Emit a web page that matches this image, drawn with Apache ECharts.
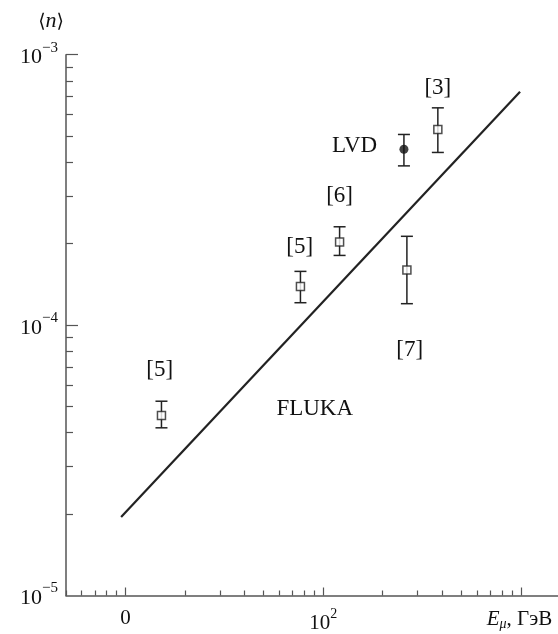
<!DOCTYPE html>
<html>
<head>
<meta charset="utf-8">
<script src="https://cdn.jsdelivr.net/npm/echarts@6/dist/echarts.min.js"></script>
<style>
html,body{margin:0;padding:0;background:#fff;}
#chart{width:558px;height:634px;}
</style>
</head>
<body>
<div id="chart"></div>
<script>
// ---- data (E_mu in GeV, <n>) ----
const squarePoints = [      // [E, <n>, low, high]
  [15.2, 4.63e-5, 4.17e-5, 5.23e-5],
  [76.7, 1.39e-4, 1.21e-4, 1.58e-4],
  [121, 2.03e-4, 1.81e-4, 2.31e-4],
  [265, 1.60e-4, 1.20e-4, 2.13e-4],
  [380, 5.29e-4, 4.35e-4, 6.36e-4]
];
const lvdPoint = [[256, 4.47e-4, 3.88e-4, 5.07e-4]];
const flukaLine = [[9.5, 1.95e-5], [990, 7.3e-4]];
const textLabels = [      // [E, <n>, text]
  [14.9, 6.85e-5, '[5]'],
  [76.0, 1.95e-4, '[5]'],
  [121, 3.0e-4, '[6]'],
  [144, 4.58e-4, 'LVD'],
  [380, 7.55e-4, '[3]'],
  [274, 8.1e-5, '[7]'],
  [90.6, 4.89e-5, 'FLUKA']
];
const xMajorTicks = [10, 100, 1000];
const xMinorTicks = [5,6,7,8,9, 20,30,40,50,60,70,80,90, 200,300,400,500,600,700,800,900];
const yMajorTicks = [1e-4, 1e-3];
const yLabelValues = [1e-5, 1e-4, 1e-3];
const yMinorTicks = [2e-5,3e-5,4e-5,5e-5,6e-5,7e-5,8e-5,9e-5, 2e-4,3e-4,4e-4,5e-4,6e-4,7e-4,8e-4,9e-4];

const FONT = '"Liberation Serif", "DejaVu Serif", serif';
const INK = '#111';
const AXIS = '#555';

const chart = echarts.init(document.getElementById('chart'), null, {renderer: 'canvas'});

const errBars = squarePoints.concat(lvdPoint).map(p => [p[0], p[2], p[3]]);

const option = {
  backgroundColor: '#fff',
  animation: false,
  grid: {left: 66, right: 0, top: 54.7, bottom: 35},
  xAxis: [
    {
      type: 'log', logBase: 10, min: 5, max: 1540,
      axisLine: {show: true, lineStyle: {color: AXIS, width: 1.5}},
      axisTick: {show: true, inside: true, length: 8, customValues: xMajorTicks, lineStyle: {color: AXIS, width: 1.2}},
      splitLine: {show: false},
      axisLabel: {
        customValues: xMajorTicks, margin: 12, color: INK, fontFamily: FONT, fontSize: 21,
        formatter: function (v) {
          if (Math.abs(v - 10) < 1e-6) return '{b|0}';
          if (Math.abs(v - 100) < 1e-6) return '{b|10}{s|2}';
          return '{i|E}{u|μ}{b|, ГэВ}{pad|}';
        },
        rich: {
          b: {fontFamily: FONT, fontSize: 21, color: INK},
          s: {fontFamily: FONT, fontSize: 14, color: INK, padding: [0, 0, 18, 0]},
          i: {fontFamily: FONT, fontSize: 21, fontStyle: 'italic', color: INK},
          u: {fontFamily: FONT, fontSize: 14, fontStyle: 'italic', color: INK, padding: [10, 0, 0, 0]},
          pad: {padding: [0, 3, 0, 0]}
        }
      }
    },
    {
      type: 'log', logBase: 10, min: 5, max: 1540, position: 'bottom',
      axisLine: {show: false},
      axisTick: {show: true, inside: true, length: 5, customValues: xMinorTicks, lineStyle: {color: AXIS, width: 1.2}},
      axisLabel: {show: false},
      splitLine: {show: false}
    }
  ],
  yAxis: [
    {
      type: 'log', logBase: 10, min: 1e-5, max: 1e-3,
      name: '{p|⟨}{n|n}{p|⟩}', nameLocation: 'end', nameGap: 22,
      nameTextStyle: {
        align: 'right', padding: [0, 2, 0, 0],
        rich: {
          p: {fontFamily: '"DejaVu Serif", serif', fontSize: 19, color: INK},
          n: {fontFamily: FONT, fontSize: 22, fontStyle: 'italic', color: INK}
        }
      },
      axisLine: {show: true, lineStyle: {color: AXIS, width: 1.5}},
      axisTick: {show: true, inside: true, length: 12, customValues: yMajorTicks, lineStyle: {color: AXIS, width: 1.2}},
      splitLine: {show: false},
      axisLabel: {
        customValues: yLabelValues, margin: 8, color: INK, fontFamily: FONT, fontSize: 22,
        formatter: function (v) {
          const e = Math.round(Math.log10(v));
          return '{b|10}{s|−' + Math.abs(e) + '}';
        },
        rich: {
          b: {fontFamily: FONT, fontSize: 22, color: INK, padding: [6, 0, 0, 0]},
          s: {fontFamily: FONT, fontSize: 15, color: INK, padding: [0, 0, 14, 0]}
        }
      }
    },
    {
      type: 'log', logBase: 10, min: 1e-5, max: 1e-3, position: 'left',
      axisLine: {show: false},
      axisTick: {show: true, inside: true, length: 7, customValues: yMinorTicks, lineStyle: {color: AXIS, width: 1.2}},
      axisLabel: {show: false},
      splitLine: {show: false}
    }
  ],
  series: [
    {
      type: 'line', xAxisIndex: 0, yAxisIndex: 0,
      data: flukaLine, showSymbol: false, symbol: 'none',
      lineStyle: {color: '#222', width: 2.2}, silent: true, z: 2
    },
    {
      type: 'custom', xAxisIndex: 0, yAxisIndex: 0,
      data: errBars, silent: true, z: 3,
      renderItem: function (params, api) {
        const x = api.value(0);
        const lo = api.coord([x, api.value(1)]);
        const hi = api.coord([x, api.value(2)]);
        const w = 6;
        const st = {stroke: '#222', lineWidth: 1.5};
        return {
          type: 'group',
          children: [
            {type: 'line', shape: {x1: lo[0], y1: lo[1], x2: hi[0], y2: hi[1]}, style: st},
            {type: 'line', shape: {x1: lo[0] - w, y1: lo[1], x2: lo[0] + w, y2: lo[1]}, style: st},
            {type: 'line', shape: {x1: hi[0] - w, y1: hi[1], x2: hi[0] + w, y2: hi[1]}, style: st}
          ]
        };
      }
    },
    {
      type: 'scatter', xAxisIndex: 0, yAxisIndex: 0,
      data: squarePoints.map(p => [p[0], p[1]]),
      symbol: 'rect', symbolSize: [8, 8], silent: true, z: 4,
      itemStyle: {color: '#fff', borderColor: '#222', borderWidth: 1.5}
    },
    {
      type: 'scatter', xAxisIndex: 0, yAxisIndex: 0,
      data: lvdPoint.map(p => [p[0], p[1]]),
      symbol: 'circle', symbolSize: 9, silent: true, z: 4,
      itemStyle: {color: '#111'}
    },
    {
      type: 'scatter', xAxisIndex: 0, yAxisIndex: 0,
      data: textLabels, symbolSize: 0, silent: true, z: 5,
      itemStyle: {color: '#fff', opacity: 1},
      label: {
        show: true, position: 'inside', color: INK, fontFamily: FONT, fontSize: 23,
        textBorderWidth: 0, opacity: 1,
        formatter: function (d) { return d.value[2]; }
      },
      labelLayout: {hideOverlap: false}
    }
  ]
};
chart.setOption(option);
</script>
</body>
</html>
